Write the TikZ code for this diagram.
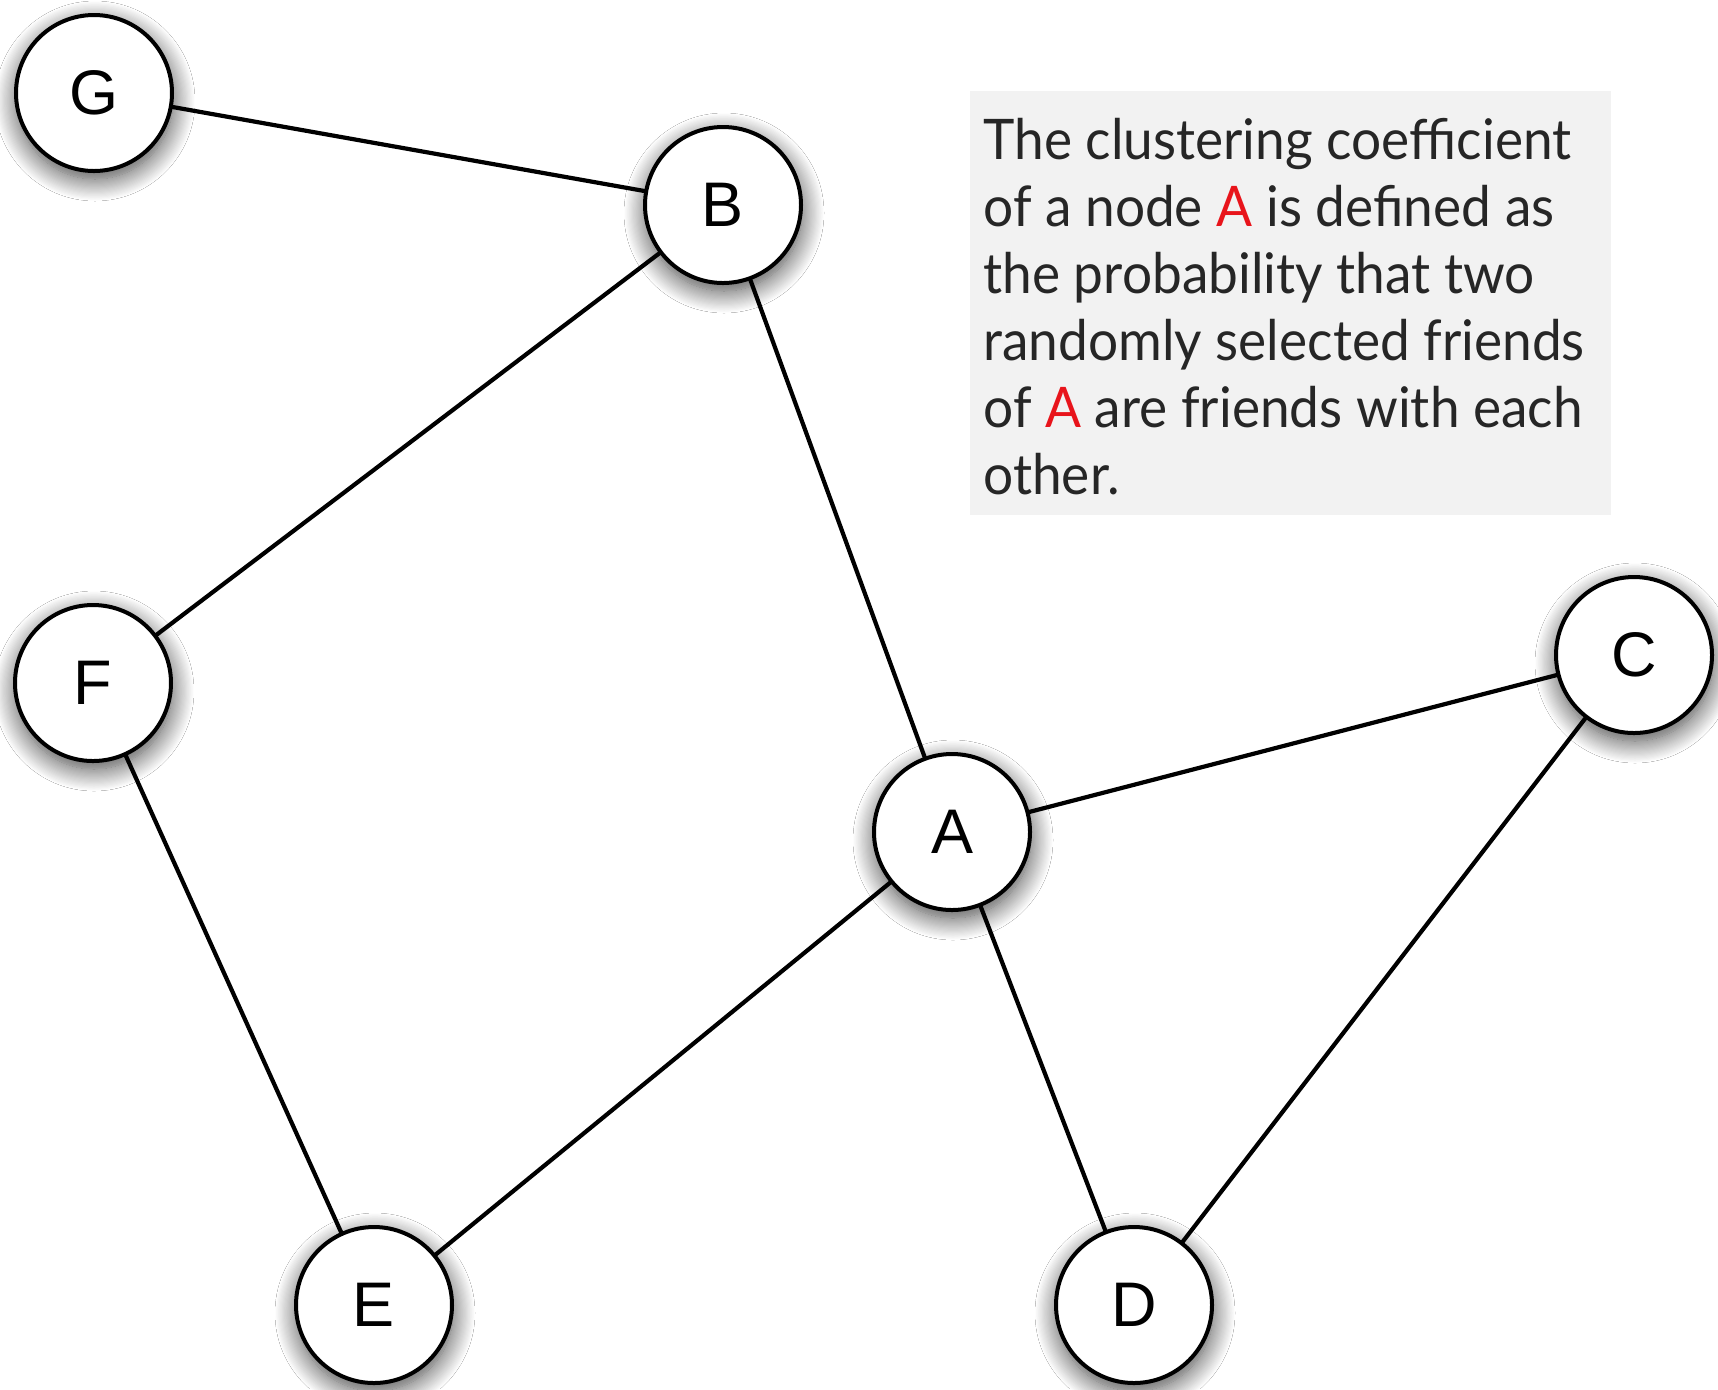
\documentclass[tikz,border=0pt]{standalone}
\usepackage{fontspec}
\setmainfont{Liberation Sans}
\newfontfamily\notefont[FakeStretch=0.95]{Lato}
\usetikzlibrary{shadows.blur}
\definecolor{notebg}{HTML}{F2F2F2}
\definecolor{hl}{HTML}{E8141B}
\begin{document}
\begin{tikzpicture}[x=0.5pt,y=-0.5pt,
  vertex/.style={circle,draw=black,line width=2pt,fill=white,
    minimum size=78pt,inner sep=0pt,
    font=\fontsize{31.5}{36}\selectfont,
    blur shadow={shadow xshift=0.5pt,shadow yshift=-4pt,shadow blur radius=11pt,
      shadow blur steps=20,shadow opacity=75}},
  edge/.style={line width=2.1pt,black},
  noteline/.style={anchor=base west,inner sep=0pt,text=black!85,
    font=\notefont\fontsize{28}{33}\selectfont}]
  \useasboundingbox[fill=white] (0,0) rectangle (1718,1389);

  % note panel
  \fill[notebg] (970,91) rectangle (1611,515);
  \node[noteline] (l1) at (983,159) {The clustering coefficient};
  \node[noteline] (l2) at (983,226) {of a node \textcolor{hl}{A} is defined as};
  \node[noteline] (l3) at (983,293) {the probability that two};
  \node[noteline] (l4) at (983,360) {randomly selected friends};
  \node[noteline] (l5) at (983,427) {of \textcolor{hl}{A} are friends with each};
  \node[noteline] (l6) at (983,494) {other.};

  % edges
  \coordinate (pG) at (94,93);
  \coordinate (pB) at (723,205);
  \coordinate (pF) at (93,683);
  \coordinate (pA) at (952,832);
  \coordinate (pC) at (1634,655);
  \coordinate (pE) at (374,1305);
  \coordinate (pD) at (1134,1305);
  \draw[edge] (pG) -- (pB);
  \draw[edge] (pB) -- (pF);
  \draw[edge] (pB) -- (pA);
  \draw[edge] (pF) -- (pE);
  \draw[edge] (pA) -- (pE);
  \draw[edge] (pA) -- (pC);
  \draw[edge] (pA) -- (pD);
  \draw[edge] (pC) -- (pD);

  % vertices
  \node[vertex] (G) at (pG) {G};
  \node[vertex] (B) at (pB) {B};
  \node[vertex] (F) at (pF) {F};
  \node[vertex] (A) at (pA) {A};
  \node[vertex] (C) at (pC) {C};
  \node[vertex] (E) at (pE) {E};
  \node[vertex] (D) at (pD) {D};
\end{tikzpicture}
\end{document}
